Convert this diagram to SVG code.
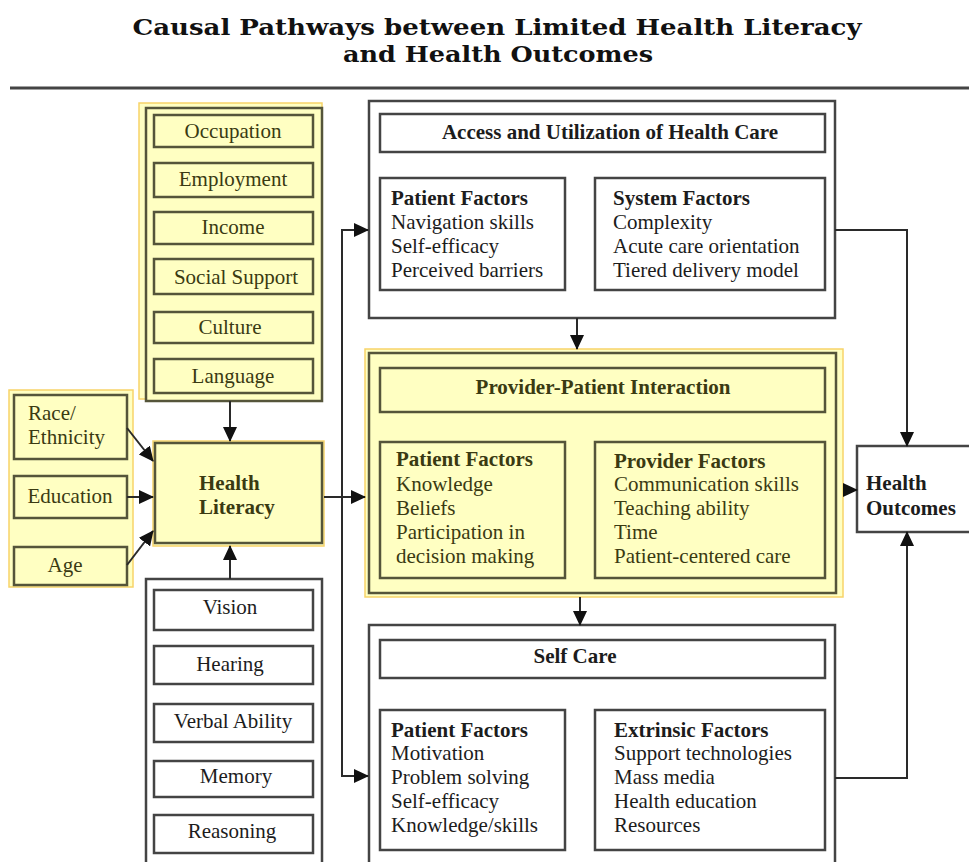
<svg xmlns="http://www.w3.org/2000/svg" width="969" height="862" viewBox="0 0 969 862">
<style>
  .t{font-family:"Liberation Serif","Times New Roman",serif;font-size:21px;fill:#1c1c1c}
  .ty{font-family:"Liberation Serif","Times New Roman",serif;font-size:21px;fill:#3a3a12}
  .b{font-weight:bold}
  .c{text-anchor:middle}
  .hl{fill:#FFFFC2;stroke:#F7D46A;stroke-width:1.5}
  .yb{fill:#FFFFC2;stroke:#55553a;stroke-width:2.5}
  .wb{fill:#ffffff;stroke:#444;stroke-width:2.5}
  .con{fill:none;stroke:#2a2a2a;stroke-width:2}
  .title{font-family:"DejaVu Serif",serif;font-weight:bold;font-size:23px;fill:#111;text-anchor:middle}
</style>
<defs>
  <marker id="ah" markerUnits="userSpaceOnUse" markerWidth="16" markerHeight="14" refX="14" refY="7" orient="auto">
    <path d="M0,0 L15,7 L0,14 Z" fill="#111"/>
  </marker>
</defs>
<rect width="969" height="862" fill="#ffffff"/>

<g id="title">
  <text class="title" x="497" y="35" textLength="729" lengthAdjust="spacingAndGlyphs">Causal Pathways between Limited Health Literacy</text>
  <text class="title" x="498" y="62" textLength="310" lengthAdjust="spacingAndGlyphs">and Health Outcomes</text>
  <line x1="10" y1="88" x2="969" y2="88" stroke="#444" stroke-width="3"/>
</g>

<g id="social-factors">
  <rect class="hl" x="139" y="103" width="183" height="296"/>
  <rect class="yb" x="146" y="108" width="176" height="293"/>
  <rect class="yb" x="154" y="115" width="159" height="32"/>
  <text class="ty c" x="233" y="138">Occupation</text>
  <rect class="yb" x="154" y="163" width="159" height="34"/>
  <text class="ty c" x="233" y="186">Employment</text>
  <rect class="yb" x="154" y="212" width="159" height="32"/>
  <text class="ty c" x="233" y="234">Income</text>
  <rect class="yb" x="154" y="259" width="159" height="35"/>
  <text class="ty c" x="236" y="284">Social Support</text>
  <rect class="yb" x="154" y="312" width="159" height="31"/>
  <text class="ty c" x="230" y="334">Culture</text>
  <rect class="yb" x="154" y="359" width="159" height="34"/>
  <text class="ty c" x="233" y="383">Language</text>
</g>

<g id="demographics">
  <rect class="hl" x="9" y="390" width="124" height="197"/>
  <rect class="yb" x="14" y="395" width="113" height="64"/>
  <text class="ty" x="28" y="420">Race/</text>
  <text class="ty" x="28" y="444">Ethnicity</text>
  <rect class="yb" x="14" y="476" width="113" height="42"/>
  <text class="ty c" x="70" y="503">Education</text>
  <rect class="yb" x="14" y="547" width="113" height="38"/>
  <text class="ty c" x="65" y="572">Age</text>
</g>

<g id="health-literacy">
  <rect class="hl" x="153" y="441" width="171" height="105"/>
  <rect class="yb" x="155" y="443" width="167" height="100"/>
  <text class="ty b" x="199" y="490">Health</text>
  <text class="ty b" x="199" y="514">Literacy</text>
</g>

<g id="cognitive-factors">
  <rect class="wb" x="146" y="579" width="176" height="300"/>
  <rect class="wb" x="154" y="590" width="159" height="40"/>
  <text class="t c" x="230" y="614">Vision</text>
  <rect class="wb" x="154" y="646" width="159" height="38"/>
  <text class="t c" x="230" y="671">Hearing</text>
  <rect class="wb" x="154" y="704" width="159" height="38"/>
  <text class="t c" x="233" y="728">Verbal Ability</text>
  <rect class="wb" x="154" y="761" width="159" height="36"/>
  <text class="t c" x="236" y="783">Memory</text>
  <rect class="wb" x="154" y="815" width="159" height="38"/>
  <text class="t c" x="232" y="838">Reasoning</text>
</g>

<g id="access">
  <rect class="wb" x="369" y="101" width="466" height="217"/>
  <rect class="wb" x="380" y="114" width="445" height="38"/>
  <text class="t b c" x="610" y="139">Access and Utilization of Health Care</text>
  <rect class="wb" x="380" y="178" width="185" height="112"/>
  <text class="t b" x="391" y="205">Patient Factors</text>
  <text class="t" x="391" y="229">Navigation skills</text>
  <text class="t" x="391" y="253">Self-efficacy</text>
  <text class="t" x="391" y="277">Perceived barriers</text>
  <rect class="wb" x="595" y="178" width="230" height="112"/>
  <text class="t b" x="613" y="205">System Factors</text>
  <text class="t" x="613" y="229">Complexity</text>
  <text class="t" x="613" y="253">Acute care orientation</text>
  <text class="t" x="613" y="277">Tiered delivery model</text>
</g>

<g id="provider-patient">
  <rect class="hl" x="365" y="349" width="478" height="248"/>
  <rect class="yb" x="369" y="353" width="467" height="240"/>
  <rect class="yb" x="380" y="368" width="445" height="44"/>
  <text class="ty b c" x="603" y="394">Provider-Patient Interaction</text>
  <rect class="yb" x="380" y="442" width="185" height="136"/>
  <text class="ty b" x="396" y="466">Patient Factors</text>
  <text class="ty" x="396" y="491">Knowledge</text>
  <text class="ty" x="396" y="515">Beliefs</text>
  <text class="ty" x="396" y="539">Participation in</text>
  <text class="ty" x="396" y="563">decision making</text>
  <rect class="yb" x="595" y="442" width="230" height="136"/>
  <text class="ty b" x="614" y="468">Provider Factors</text>
  <text class="ty" x="614" y="491">Communication skills</text>
  <text class="ty" x="614" y="515">Teaching ability</text>
  <text class="ty" x="614" y="539">Time</text>
  <text class="ty" x="614" y="563">Patient-centered care</text>
</g>

<g id="self-care">
  <rect class="wb" x="369" y="625" width="466" height="250"/>
  <rect class="wb" x="380" y="640" width="445" height="38"/>
  <text class="t b c" x="575" y="663">Self  Care</text>
  <rect class="wb" x="380" y="710" width="185" height="140"/>
  <text class="t b" x="391" y="737">Patient Factors</text>
  <text class="t" x="391" y="760">Motivation</text>
  <text class="t" x="391" y="784">Problem solving</text>
  <text class="t" x="391" y="808">Self-efficacy</text>
  <text class="t" x="391" y="832">Knowledge/skills</text>
  <rect class="wb" x="595" y="710" width="230" height="140"/>
  <text class="t b" x="614" y="737">Extrinsic Factors</text>
  <text class="t" x="614" y="760">Support technologies</text>
  <text class="t" x="614" y="784">Mass media</text>
  <text class="t" x="614" y="808">Health education</text>
  <text class="t" x="614" y="832">Resources</text>
</g>

<g id="health-outcomes">
  <rect class="wb" x="857" y="446" width="125" height="86"/>
  <text class="t b" x="866" y="490">Health</text>
  <text class="t b" x="866" y="515">Outcomes</text>
</g>

<g id="connectors">
  <line class="con" x1="230" y1="401" x2="230" y2="441" marker-end="url(#ah)"/>
  <line class="con" x1="230" y1="579" x2="230" y2="546" marker-end="url(#ah)"/>
  <line class="con" x1="127" y1="428" x2="153" y2="461" marker-end="url(#ah)"/>
  <line class="con" x1="127" y1="497" x2="153" y2="497" marker-end="url(#ah)"/>
  <line class="con" x1="127" y1="565" x2="153" y2="531" marker-end="url(#ah)"/>
  <line class="con" x1="324" y1="497" x2="365" y2="497" marker-end="url(#ah)"/>
  <path class="con" d="M342,497 V230 H368" marker-end="url(#ah)"/>
  <path class="con" d="M342,497 V776 H368" marker-end="url(#ah)"/>
  <line class="con" x1="577" y1="318" x2="577" y2="349" marker-end="url(#ah)"/>
  <line class="con" x1="580" y1="597" x2="580" y2="625" marker-end="url(#ah)"/>
  <path class="con" d="M835,230 H907 V446" marker-end="url(#ah)"/>
  <line class="con" x1="843" y1="490" x2="857" y2="490" marker-end="url(#ah)"/>
  <path class="con" d="M835,778 H907 V532" marker-end="url(#ah)"/>
</g>
</svg>
